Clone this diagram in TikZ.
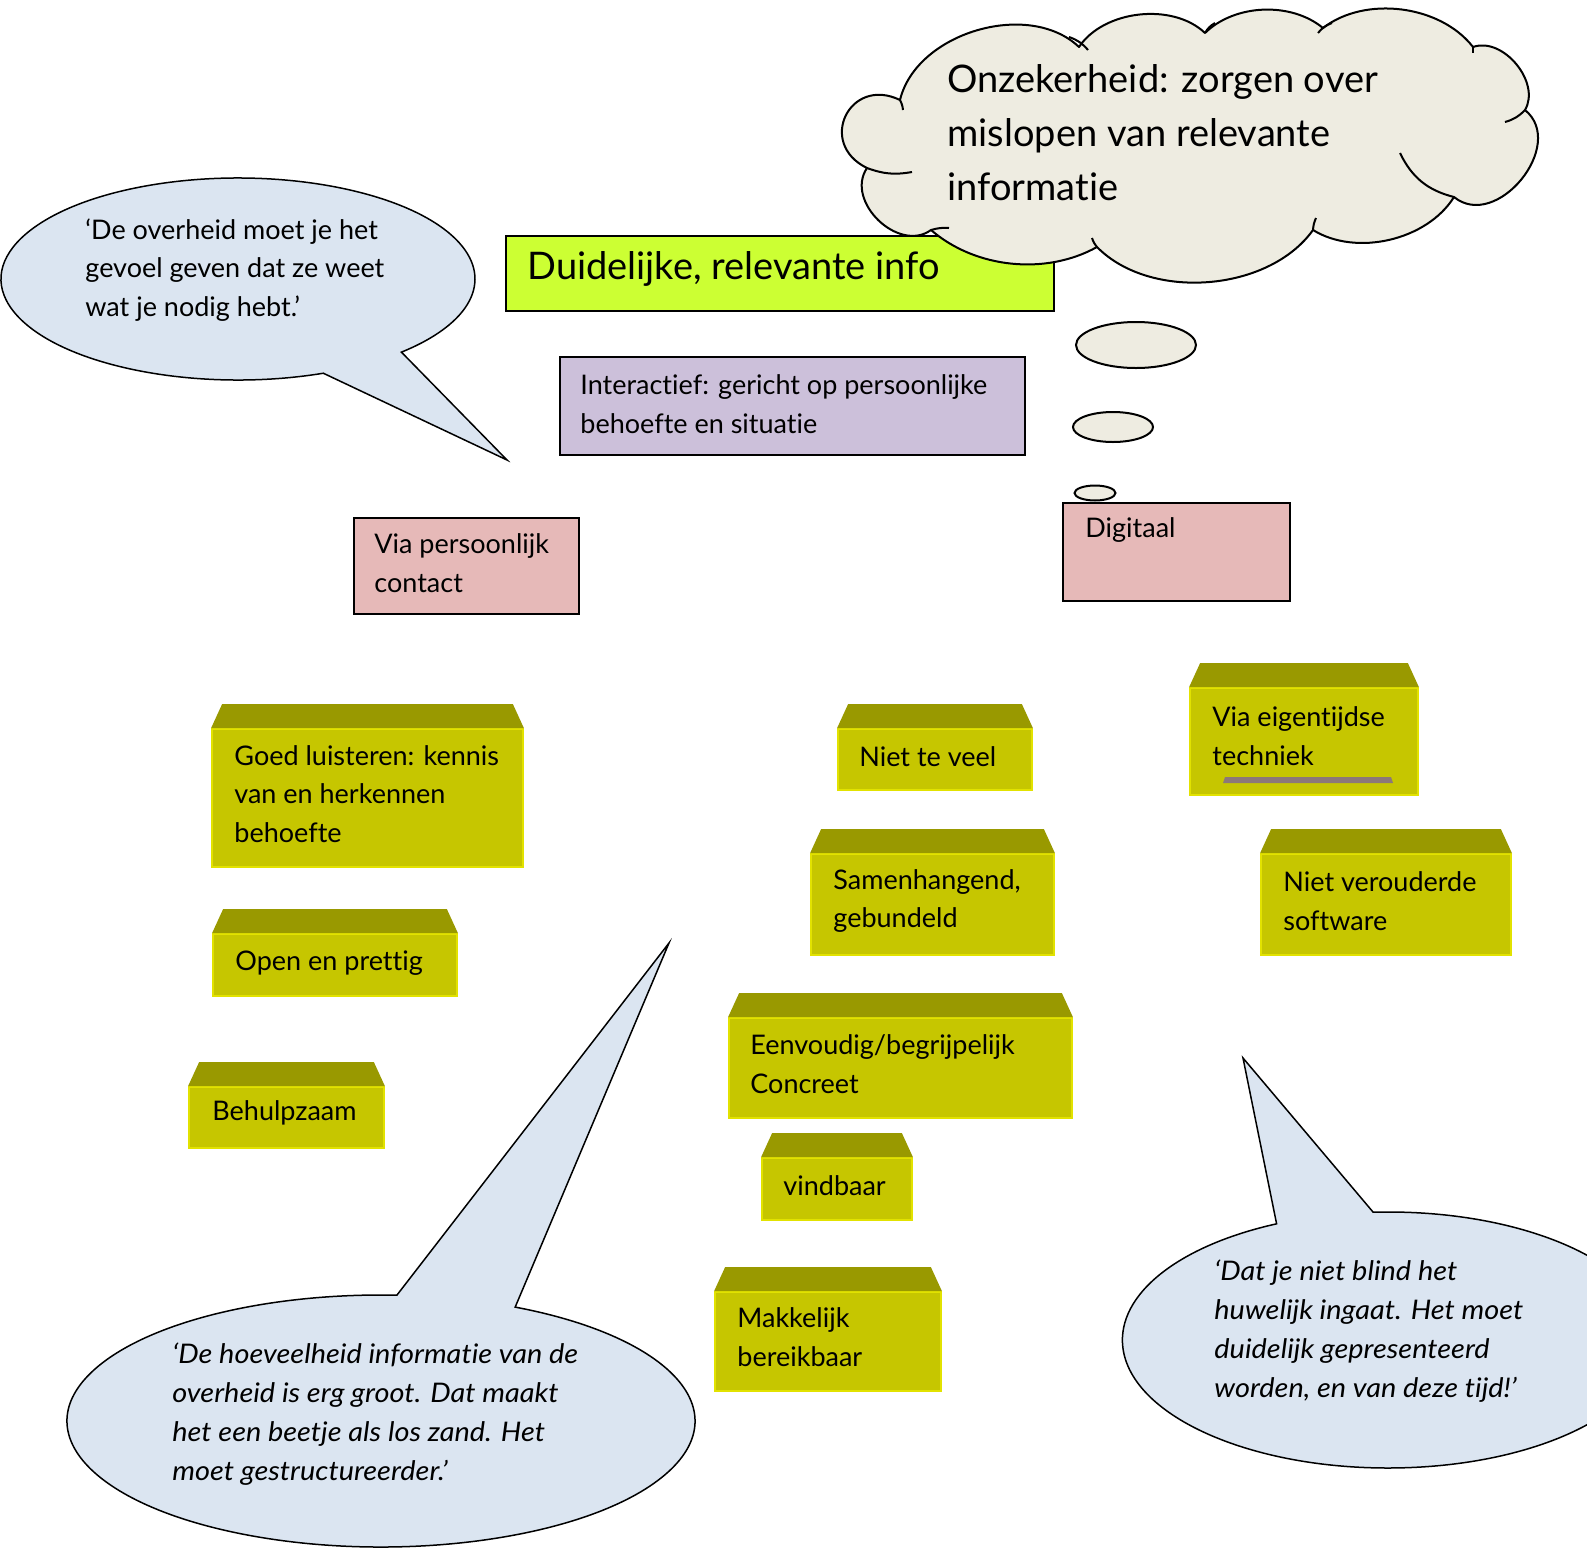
\documentclass[tikz,border=0pt]{standalone}
\usepackage{fontspec}
\setmainfont{Lato}[Ligatures=NoCommon, ItalicFeatures={FakeStretch=1.07}]
\usetikzlibrary{shapes.geometric,fit}
\definecolor{bubble}{HTML}{DBE5F1}
\definecolor{cloudc}{HTML}{EEECE1}
\definecolor{lime}{HTML}{CCFF33}
\definecolor{lilac}{HTML}{CCC0DA}
\definecolor{rose}{HTML}{E6B9B8}
\definecolor{olive}{HTML}{C6C600}
\definecolor{olivetop}{HTML}{999900}
\definecolor{oliveedge}{HTML}{E2E200}
\definecolor{barc}{HTML}{8C7878}
\tikzset{
  bub/.style={fill=bubble, draw=black, line width=0.75pt, line join=miter},
  flat/.style={rectangle, draw=black, line width=1pt, inner sep=0pt},
  ybox/.style={rectangle, fill=olive, draw=oliveedge, line width=0.9pt, inner sep=0pt},
  txt/.style={anchor=west, align=left, inner sep=0pt, font=\fontsize{13.5}{19.25}\selectfont},
  itxt/.style={txt, font=\fontsize{13.5}{19.5}\selectfont\itshape},
  thought/.style={ellipse, fill=cloudc, draw=black, line width=1pt, inner sep=0pt},
  puff/.style args={#1/#2}{bend left=#1, looseness=#2},
  inner/.style={draw=black, line width=1pt}
}
\newcommand\bevel[1]{%
  \fill[olivetop] ([xshift=5.5pt,yshift=12pt]#1.north west) -- ([xshift=-5.5pt,yshift=12pt]#1.north east)
     -- (#1.north east) -- (#1.north west) -- cycle;}
\begin{document}
\begin{tikzpicture}[x=0.5pt,y=-0.5pt]
\useasboundingbox (0,0) rectangle (1587,1548);
\clip (0,0) rectangle (1587,1548);

% speech bubbles
\draw[bub] ([shift={(238,279)}]46.4:237 and 101) -- (507,460) -- ([shift={(238,279)}]68.9:237 and 101)
   arc[start angle=68.9, end angle=406.4, x radius=237, y radius=101] -- cycle;
\node[txt] (q1) at (85,270) {‘De overheid moet je het\\gevoel geven dat ze weet\\wat je nodig hebt.’};

\draw[bub] ([shift={(381,1421)}]-87.1:314 and 126) -- (669,943) -- ([shift={(381,1421)}]-64.7:314 and 126)
   arc[start angle=-64.7, end angle=272.9, x radius=314, y radius=126] -- cycle;
\node[itxt] (q2) at (172,1414) {‘De hoeveelheid informatie van de\\overheid is erg groot. Dat maakt\\het een beetje als los zand. Het\\moet gestructureerder.’};

\draw[bub] ([shift={(1388,1340)}]-114.8:265.6 and 128) -- (1243,1058) -- ([shift={(1388,1340)}]-93.2:265.6 and 128)
   arc[start angle=-93.2, end angle=245.2, x radius=265.6, y radius=128] -- cycle;
\node[itxt] (q3) at (1214,1331) {‘Dat je niet blind het\\huwelijk ingaat. Het moet\\duidelijk gepresenteerd\\worden, en van deze tijd!’};

% flat boxes
\node[flat, fill=lime, fit={(506,236) (1054,311)}] (main) {};
\node[txt, font=\fontsize{19}{22}\selectfont] (main-t) at (527,269) {Duidelijke, relevante info};

\node[flat, fill=lilac, fit={(560,357) (1025,455)}] (inter) {};
\node[txt] (inter-t) at (580,404) {Interactief: gericht op persoonlijke\\behoefte en situatie};

\node[flat, fill=rose, fit={(354,518) (579,614)}] (pers) {};
\node[txt] (pers-t) at (374,563) {Via persoonlijk\\contact};

\node[flat, fill=rose, fit={(1063,503) (1290,601)}] (dig) {};
\node[txt] (dig-t) at (1085,530) {Digitaal};

% yellow boxes
\node[ybox, fit={(212,729) (523,867)}] (y1) {}; \bevel{y1}
\node[txt] (y1-t) at (234,794) {Goed luisteren: kennis\\van en herkennen\\behoefte};

\node[ybox, fit={(213,934) (457,996)}] (y2) {}; \bevel{y2}
\node[txt] (y2-t) at (235,963) {Open en prettig};

\node[ybox, fit={(189,1087) (384,1148)}] (y3) {}; \bevel{y3}
\node[txt] (y3-t) at (212,1113) {Behulpzaam};

\node[ybox, fit={(838,729) (1032,790)}] (y4) {}; \bevel{y4}
\node[txt] (y4-t) at (859,757) {Niet te veel};

\node[ybox, fit={(811,854) (1054,955)}] (y5) {}; \bevel{y5}
\node[txt] (y5-t) at (833,901) {Samenhangend,\\gebundeld};

\node[ybox, fit={(729,1018) (1072,1118)}] (y6) {}; \bevel{y6}
\node[txt] (y6-t) at (750,1064) {Eenvoudig/begrijpelijk\\Concreet};

\node[ybox, fit={(762,1158) (912,1220)}] (y7) {}; \bevel{y7}
\node[txt] (y7-t) at (783,1186) {vindbaar};

\node[ybox, fit={(715,1292) (941,1391)}] (y8) {}; \bevel{y8}
\node[txt] (y8-t) at (737,1337) {Makkelijk\\bereikbaar};

\node[ybox, fit={(1190,688) (1418,795)}] (y9) {}; \bevel{y9}
\node[txt] (y9-t) at (1212,736) {Via eigentijdse\\techniek};
\fill[barc] (1225,777) -- (1391,777) -- (1393,783) -- (1223,783) -- cycle;

\node[ybox, fit={(1261,854) (1511,955)}] (y10) {}; \bevel{y10}
\node[txt] (y10-t) at (1283,901) {Niet verouderde\\software};

% thought cloud
\filldraw[fill=cloudc, draw=black, line width=1pt, line join=round]
  (931,230) to[puff=80/1.15] (867,168) to[puff=90/1.9] (900,100) to[puff=60/0.95] (1079,47)
  to[puff=50/0.9] (1205,33) to[puff=42/0.9] (1323,28) to[puff=45/0.9] (1473,47)
  to[puff=70/1.0] (1525,110) to[puff=90/1.25] (1454,197) to[puff=45/0.9] (1313,230)
  to[puff=50/0.9] (1097,247) to[puff=35/0.9] (931,230) -- cycle;
\draw[inner] (867,168) to[bend right=15] (912,172);
\draw[inner] (931,230) to[bend left=10] (949,228);
\draw[inner] (900,100) to[bend left=10] (903,110);
\draw[inner] (1069,37) to[bend left=15] (1088,50);
\draw[inner] (1205,33) to[bend left=15] (1215,23);
\draw[inner] (1318,33) to[bend left=15] (1332,23);
\draw[inner] (1473,47) -- (1473,53);
\draw[inner] (1525,110) to[bend left=15] (1505,122);
\draw[inner] (1454,197) to[bend left=25] (1400,153);
\draw[inner] (1313,230) to[bend left=10] (1316,218);
\draw[inner] (1097,247) to[bend left=10] (1092,238);
\node[txt, font=\fontsize{19}{27}\selectfont] (cl-t) at (947,133) {Onzekerheid: zorgen over\\mislopen van relevante\\informatie};

\node[thought, minimum width=60pt, minimum height=23pt] (e1) at (1136,345) {};
\node[thought, minimum width=40pt, minimum height=15pt] (e2) at (1113,427) {};
\node[thought, minimum width=20.5pt, minimum height=7.5pt] (e3) at (1095,493) {};
\end{tikzpicture}
\end{document}
